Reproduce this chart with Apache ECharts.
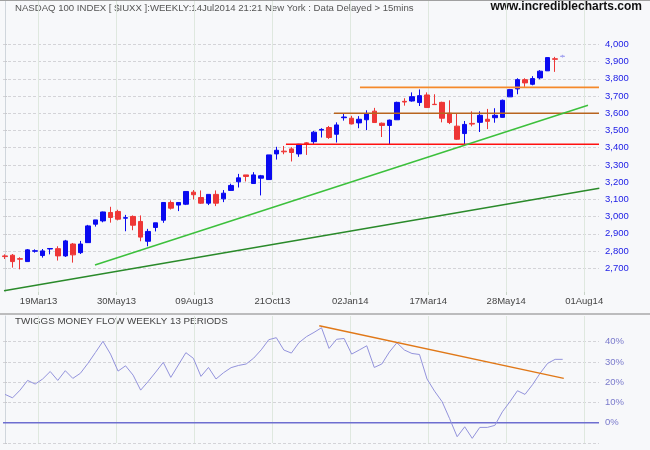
<!DOCTYPE html>
<html><head><meta charset="utf-8">
<script src="https://cdn.jsdelivr.net/npm/echarts@6/dist/echarts.min.js"></script>
<style>html,body{margin:0;padding:0;background:#f7f8fa}#c{width:650px;height:450px}</style>
</head><body><div id="c"></div><script>
// weekly candles: [open, close, low, high]
const ohlc = [
[2772,2768,2754,2781],[2776,2739,2704,2783],[2756,2753,2694,2764],[2739,2807,2739,2812],[2799,2802,2791,2810],
[2774,2801,2762,2812],[2812,2815,2781,2816],[2814,2772,2745,2828],[2772,2859,2766,2865],[2841,2778,2733,2847],
[2791,2841,2783,2859],[2849,2946,2849,2952],[2956,2981,2942,2981],[2975,3027,2967,3029],[3024,2995,2965,3057],
[3030,2985,2978,3040],[2991,2994,2915,3010],[3001,2950,2921,3007],[2972,2881,2857,3007],[2857,2914,2828,2929],
[2937,2964,2914,2964],[2979,3082,2964,3082],[3082,3049,3041,3094],[3067,3082,3032,3082],[3072,3146,3067,3146],
[3142,3127,3100,3154],[3111,3078,3074,3152],[3078,3129,3067,3129],[3129,3078,3061,3152],[3103,3136,3084,3154],
[3152,3181,3150,3191],[3202,3225,3169,3248],[3242,3233,3204,3242],[3192,3242,3192,3258],[3223,3237,3123,3242],
[3215,3358,3215,3358],[3364,3385,3331,3405],[3380,3376,3362,3410],[3393,3372,3320,3403],[3364,3420,3347,3422],
[3428,3424,3358,3432],[3435,3490,3422,3497],[3502,3506,3459,3513],[3517,3459,3451,3526],[3478,3532,3430,3547],
[3574,3578,3557,3596],[3571,3538,3535,3585],[3544,3565,3513,3583],[3562,3596,3502,3617],[3612,3546,3546,3631],
[3542,3529,3462,3546],[3529,3560,3421,3563],[3562,3663,3562,3667],[3669,3665,3644,3687],[3671,3696,3667,3721],
[3662,3702,3642,3738],[3706,3633,3633,3721],[3652,3650,3650,3710],[3663,3571,3547,3667],[3600,3546,3537,3675],
[3525,3449,3445,3600],[3482,3535,3415,3555],[3541,3537,3524,3611],[3547,3588,3491,3611],[3565,3553,3508,3625],
[3574,3588,3545,3629],[3576,3675,3574,3679],[3695,3737,3695,3741],[3741,3795,3710,3803],[3795,3776,3753,3803],
[3768,3801,3762,3815],[3805,3844,3797,3850],[3846,3923,3846,3923],[3916,3913,3840,3927],[3929,3932,3923,3939]
];
// Twiggs Money Flow (%)
const tmf = [14,12.3,16.1,20.9,19.1,21.6,25.3,20.9,25.7,21.9,24.4,29.3,34.7,40.2,33.9,25.5,28.1,23.5,16.1,20.4,
25,29.8,22.4,28.5,34.6,31.8,22.9,27.3,21.6,24.7,27.2,28.3,29,31.9,36,41,42,35.9,34.4,39.5,42.5,44.6,46.9,36.7,41.2,
41.6,33.9,35.9,38,27.3,29,34.9,39.5,35.9,34.2,33.7,21.6,15.6,10.4,2,-6.9,-2,-7.7,-2.3,-2.3,-1.3,5.4,10.4,15.8,14,
18.8,24.4,29.3,31.3,31.3];
const xTickPos = [4.46,14.79,25.13,35.48,45.81,56.16,66.5,76.85];
const xTickLabels = ['19Mar13','30May13','09Aug13','21Oct13','02Jan14','17Mar14','28May14','01Aug14'];
const priceTicks = [2700,2800,2900,3000,3100,3200,3300,3400,3500,3600,3700,3800,3900,4000];
const tmfTicks = [0,10,20,30,40];
const tmfGrid = [-10,10,20,30,40];
// horizontal levels: price, start week
const levelPrices = [3750,3600,3420];
const levelStarts = [47.1,43.65,37.28];
const levelColors = ['#f5892a','#b8641e','#ff1010'];
// trend lines [[week, price],[week, price]]
const trendA = [[11.94,2719],[77.36,3646]];
const trendB = [[-0.13,2570],[78.86,3164]];
const tmfTrend = [[41.7,47.9],[74.15,21.9]];

const xMin = -0.265, xMax = 78.82;
const chart = echarts.init(document.getElementById('c'));
const FONT = 'Liberation Sans, Arial, sans-serif';

const candleData = ohlc.map((d,i)=>{
  const v = [i, d[0], d[1], d[2], d[3]];
  if (i === ohlc.length-1) return {value:v, itemStyle:{color:'#a8a8f0',color0:'#a8a8f0',borderColor:'#a8a8f0',borderColor0:'#a8a8f0'}};
  return v;
});

const series = [{
  type:'candlestick', xAxisIndex:0, yAxisIndex:0, data:candleData,
  encode:{x:0,y:[1,2,3,4]}, barWidth:5,
  itemStyle:{color:'#0a0af0',color0:'#ee3636',borderColor:'#0a0af0',borderColor0:'#ee3636',borderWidth:1}
}];
levelPrices.forEach((p,k)=>series.push({type:'line',xAxisIndex:0,yAxisIndex:0,symbol:'none',silent:true,
  data:[[levelStarts[k],p],[xMax,p]],lineStyle:{color:levelColors[k],width:1.6}}));
series.push({type:'line',xAxisIndex:0,yAxisIndex:0,symbol:'none',silent:true,data:trendA,lineStyle:{color:'#3cc03c',width:1.5}});
series.push({type:'line',xAxisIndex:0,yAxisIndex:0,symbol:'none',silent:true,data:trendB,lineStyle:{color:'#2a8a2a',width:1.5}});
series.push({type:'line',xAxisIndex:1,yAxisIndex:1,symbol:'none',silent:true,data:[[xMin,0],[xMax,0]],lineStyle:{color:'#6e6ed0',width:1.5}});
series.push({type:'line',xAxisIndex:1,yAxisIndex:1,symbol:'none',silent:true,data:tmf.map((v,i)=>[i,v]),lineStyle:{color:'#9393dc',width:1}});
series.push({type:'line',xAxisIndex:1,yAxisIndex:1,symbol:'none',silent:true,data:tmfTrend,lineStyle:{color:'#e07818',width:1.5}});

const vGrid = {show:true,lineStyle:{color:'#dfe8df',width:1,type:'solid'}};
const hGrid = {show:true,lineStyle:{color:'#d4d4d8',width:1,type:[3,2]}};

chart.setOption({
  animation:false,
  backgroundColor:'#f7f8fa',
  grid:[{left:3,right:51,top:1,bottom:158},{left:3,right:51,top:316,bottom:7}],
  xAxis:[
    {type:'value',gridIndex:0,min:xMin,max:xMax,
     axisLine:{show:false},
     axisTick:{show:true,customValues:xTickPos,length:3,lineStyle:{color:'#c8d4c8'}},
     axisLabel:{customValues:xTickPos,formatter:v=>{const k=xTickPos.indexOf(v);return k>=0?xTickLabels[k]:'';},
       color:'#444',fontSize:9.5,fontFamily:FONT,margin:4},
     splitLine:vGrid},
    {type:'value',gridIndex:1,min:xMin,max:xMax,
     axisLine:{show:false},axisTick:{show:false,customValues:xTickPos},axisLabel:{show:false},splitLine:vGrid}
  ],
  yAxis:[
    {type:'value',gridIndex:0,position:'right',min:2562.5,max:4251.3,
     axisLine:{show:true,lineStyle:{color:'#d0d6dc'}},
     axisTick:{show:true,customValues:priceTicks,length:4,lineStyle:{color:'#c8c8cc',type:[2,2]}},
     axisLabel:{customValues:priceTicks,formatter:v=>v.toLocaleString('en-US'),color:'#1a1ae6',fontSize:9.5,fontFamily:FONT,margin:6},
     splitLine:hGrid},
    {type:'value',gridIndex:1,position:'right',min:-10,max:52.7,
     axisLine:{show:true,lineStyle:{color:'#d0d6dc'}},
     axisTick:{show:true,customValues:tmfGrid,length:4,lineStyle:{color:'#c8c8cc',type:[2,2]}},
     axisLabel:{customValues:tmfTicks,formatter:v=>v+'%',color:'#7a7acc',fontSize:9.5,fontFamily:FONT,margin:6},
     splitLine:hGrid}
  ],
  graphic:[
    {type:'line',shape:{x1:0,y1:0.5,x2:650,y2:0.5},style:{stroke:'#a0a0a0',lineWidth:1},z:10},
    {type:'line',shape:{x1:0,y1:314,x2:650,y2:314},style:{stroke:'#a8a8a8',lineWidth:1.5},z:10},
    {type:'text',left:15,top:3,style:{text:'NASDAQ 100 INDEX [ $IUXX ]:WEEKLY:14Jul2014 21:21 New York : Data Delayed > 15mins',fill:'#555',font:'9.6px '+FONT}},
    {type:'text',right:8,top:1,style:{text:'www.incrediblecharts.com',fill:'#111',font:'bold 12px '+FONT}},
    {type:'text',left:15,top:316,style:{text:'TWIGGS MONEY FLOW WEEKLY 13 PERIODS',fill:'#444',font:'9.8px '+FONT}}
  ],
  series:series
});
</script></body></html>
